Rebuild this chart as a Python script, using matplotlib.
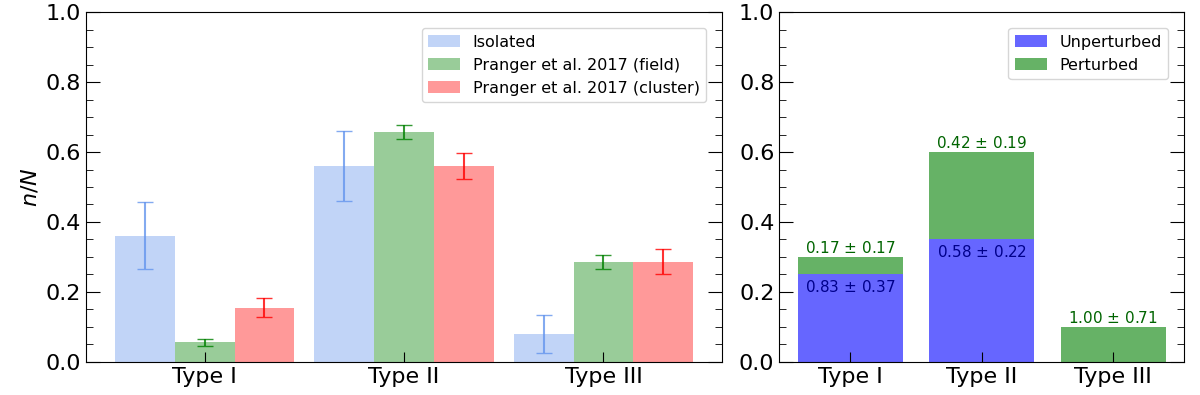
import matplotlib
matplotlib.use("Agg")
import matplotlib.pyplot as plt
import numpy as np

types = ["Type I", "Type II", "Type III"]

# left panel: fractions n/N with errors
isolated = [0.36, 0.56, 0.08]
isolated_err = [0.096, 0.10, 0.054]
field = [0.056, 0.658, 0.286]
field_err = [0.01, 0.02, 0.02]
cluster = [0.155, 0.56, 0.286]
cluster_err = [0.027, 0.038, 0.036]

# right panel: stacked fractions
unperturbed = [0.25, 0.35, 0.0]
perturbed = [0.05, 0.25, 0.10]
unpert_labels = ["0.83 $\\pm$ 0.37", "0.58 $\\pm$ 0.22", None]
pert_labels = ["0.17 $\\pm$ 0.17", "0.42 $\\pm$ 0.19", "1.00 $\\pm$ 0.71"]

plt.rcParams["font.size"] = 16

fig = plt.figure(figsize=(12, 3.95), dpi=100)
ax1 = fig.add_axes([0.0717, 0.0843, 0.53, 0.8846])
ax2 = fig.add_axes([0.6494, 0.0843, 0.3375, 0.8846])

x = np.arange(len(types))
w = 0.3
ax1.bar(x - w, isolated, w, color="cornflowerblue", alpha=0.4, label="Isolated")
ax1.errorbar(x - w, isolated, yerr=isolated_err, fmt="none", ecolor="cornflowerblue",
             capsize=5.5, alpha=0.8)
ax1.bar(x, field, w, color="green", alpha=0.4, label="Pranger et al. 2017 (field)")
ax1.errorbar(x, field, yerr=field_err, fmt="none", ecolor="green", capsize=5.5, alpha=0.8)
ax1.bar(x + w, cluster, w, color="red", alpha=0.4, label="Pranger et al. 2017 (cluster)")
ax1.errorbar(x + w, cluster, yerr=cluster_err, fmt="none", ecolor="red", capsize=5.5, alpha=0.8)
ax1.set_ylabel("$n/N$")
ax1.legend(loc="upper right", fontsize=11.5, borderaxespad=1.0)

ax2.bar(x, unperturbed, 0.8, color="blue", alpha=0.6, label="Unperturbed")
ax2.bar(x, perturbed, 0.8, bottom=unperturbed, color="green", alpha=0.6, label="Perturbed")
for i in range(len(types)):
    top = unperturbed[i] + perturbed[i]
    ax2.text(x[i], top + 0.003, pert_labels[i], ha="center", va="bottom",
             color="darkgreen", fontsize=11)
    if unpert_labels[i]:
        ax2.text(x[i], unperturbed[i] - 0.012, unpert_labels[i], ha="center", va="top",
                 color="darkblue", fontsize=11)
ax2.legend(loc="upper right", fontsize=11.5, borderaxespad=1.0)

for ax in (ax1, ax2):
    ax.set_ylim(0, 1.0)
    ax.set_xticks(x)
    ax.set_xticklabels(types)
    ax.set_yticks(np.arange(0, 1.01, 0.2))
    ax.set_yticks(np.arange(0, 1.0, 0.05), minor=True)
    ax.tick_params(axis="y", which="major", direction="in", length=10, right=True)
    ax.tick_params(axis="y", which="minor", direction="in", length=5, right=True)
    ax.tick_params(axis="x", which="major", direction="in", length=7)

fig.savefig("out.png", dpi=100)
